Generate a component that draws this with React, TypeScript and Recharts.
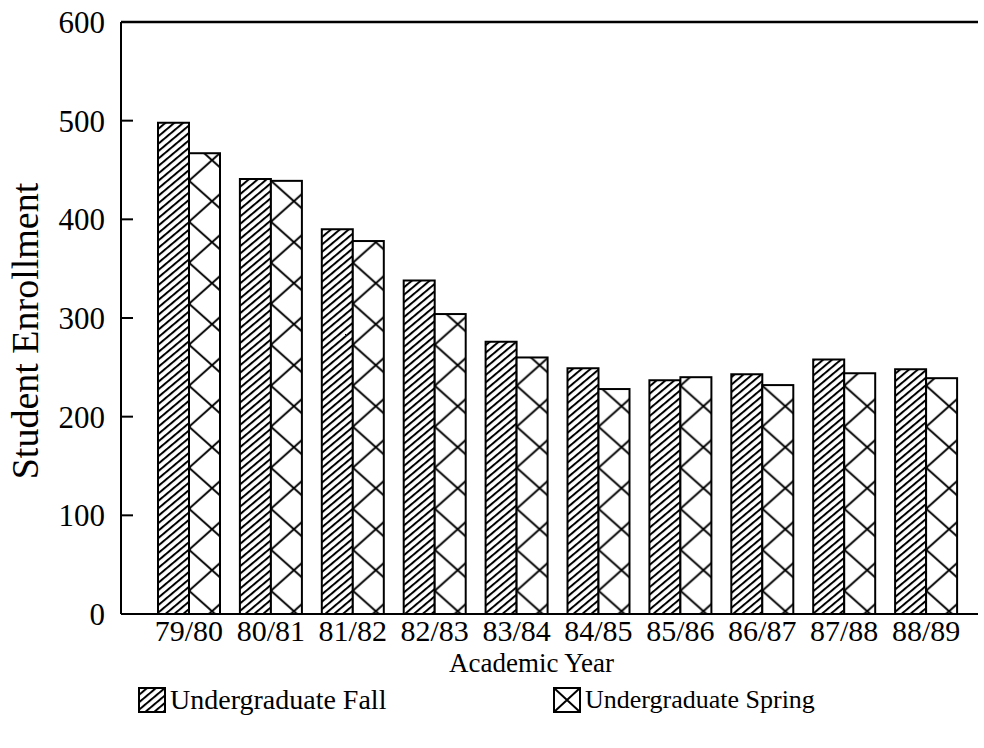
import { BarChart, Bar, XAxis, YAxis, Legend, ReferenceLine, Label } from 'recharts';

const years = ['79/80', '80/81', '81/82', '82/83', '83/84', '84/85', '85/86', '86/87', '87/88', '88/89'];
const fall = [498, 441, 390, 338, 276, 249, 237, 243, 258, 248];
const spring = [467, 439, 378, 304, 260, 228, 240, 232, 244, 239];
const yTicks = [0, 100, 200, 300, 400, 500, 600];

const data = years.map((year, i) => ({ year, fall: fall[i], spring: spring[i] }));

const FONT = '"Liberation Serif", "Times New Roman", serif';

// cross-hatch that starts at each bar's left edge
function SpringShape(props: any) {
  const { x, y, width, height, index } = props;
  if (!height || height <= 0) return null;
  const id = `spr-${index}`;
  return (
    <g>
      <defs>
        <pattern id={id} patternUnits="userSpaceOnUse" x={x} y={16.7} width={46} height={41}>
          <rect width={46} height={41} fill="#fff" />
          <path d="M0,0 L46,41 M46,0 L0,41" stroke="#000" strokeWidth={2} />
        </pattern>
      </defs>
      <rect x={x} y={y} width={width} height={height} fill={`url(#${id})`} stroke="#000" strokeWidth={2} />
    </g>
  );
}

function YTick(props: any) {
  const { x, y, payload } = props;
  return (
    <g>
      <line x1={x + 16} x2={x + 28} y1={y} y2={y} stroke="#000" strokeWidth={2} />
      <text x={x} y={y} dy="0.35em" textAnchor="end" fontSize={31} fontFamily={FONT} fill="#000">
        {payload.value}
      </text>
    </g>
  );
}

function YLabel(props: any) {
  const { viewBox } = props;
  const cx = viewBox.x + 25;
  const cy = viewBox.y + viewBox.height / 2 + 13;
  return (
    <text x={cx} y={cy} dy="0.35em" transform={`rotate(-90, ${cx}, ${cy})`} textAnchor="middle" fontSize={38} fontFamily={FONT} fill="#000">
      Student Enrollment
    </text>
  );
}

function XLabel(props: any) {
  const { viewBox } = props;
  const cx = viewBox.x + viewBox.width / 2 - 18;
  return (
    <text x={cx} y={672} textAnchor="middle" fontSize={27} fontFamily={FONT} fill="#000">
      Academic Year
    </text>
  );
}

function LegendContent() {
  return (
    <div style={{ position: 'relative', width: 984, height: 40, fontFamily: FONT, fontSize: 27, color: '#000' }}>
      <svg style={{ position: 'absolute', left: 138, top: 7 }} width={28} height={26}>
        <rect x={1} y={1} width={26} height={24} fill="url(#fallHatch)" stroke="#000" strokeWidth={2} />
      </svg>
      <span style={{ position: 'absolute', left: 170, top: 4, whiteSpace: 'nowrap', fontSize: 28 }}>Undergraduate Fall</span>
      <svg style={{ position: 'absolute', left: 553, top: 7 }} width={28} height={26}>
        <rect x={1} y={1} width={26} height={24} fill="#fff" stroke="#000" strokeWidth={2} />
        <path d="M1,1 L27,25 M27,1 L1,25" stroke="#000" strokeWidth={2} />
      </svg>
      <span style={{ position: 'absolute', left: 585, top: 5, whiteSpace: 'nowrap', fontSize: 26 }}>Undergraduate Spring</span>
    </div>
  );
}

export default function App() {
  return (
    <div style={{ position: 'absolute', left: 0, top: 0, background: '#fff' }}>
      <BarChart width={984} height={748} data={data} margin={{ top: 22, right: 6, left: 0, bottom: 28 }} barGap={0} barSize={31}>
        <defs>
          <pattern id="fallHatch" patternUnits="userSpaceOnUse" width={5.7} height={5.7} patternTransform="rotate(50)">
            <rect width={5.7} height={5.7} fill="#fff" />
            <line x1={1} y1={0} x2={1} y2={5.7} stroke="#000" strokeWidth={2} />
          </pattern>
        </defs>
        <XAxis
          dataKey="year"
          height={66}
          padding={{ left: 27, right: 11 }}
          axisLine={{ stroke: '#000', strokeWidth: 2 }}
          tickLine={false}
          tickSize={0}
          tickMargin={6}
          interval={0}
          tick={{ fill: '#000', fontSize: 30, fontFamily: FONT }}
        >
          <Label content={<XLabel />} />
        </XAxis>
        <YAxis
          width={121}
          domain={[0, 600]}
          ticks={yTicks}
          axisLine={{ stroke: '#000', strokeWidth: 2 }}
          tickLine={false}
          tickSize={0}
          tickMargin={16}
          tick={<YTick />}
        >
          <Label content={<YLabel />} />
        </YAxis>
        <ReferenceLine y={600} stroke="#000" strokeWidth={2.5} />
        <Legend verticalAlign="bottom" content={<LegendContent />} wrapperStyle={{ left: 0, width: 984 }} />
        <Bar dataKey="fall" name="Undergraduate Fall" fill="url(#fallHatch)" stroke="#000" strokeWidth={2} isAnimationActive={false} />
        <Bar dataKey="spring" name="Undergraduate Spring" shape={<SpringShape />} isAnimationActive={false} />
      </BarChart>
    </div>
  );
}
